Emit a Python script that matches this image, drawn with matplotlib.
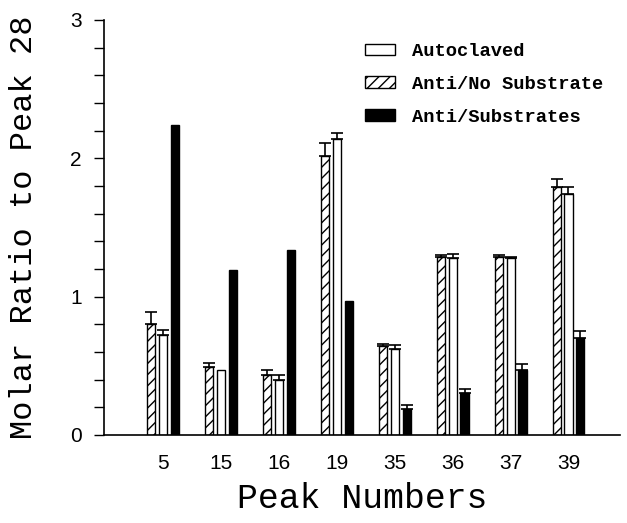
import matplotlib.pyplot as plt
from matplotlib.patches import Patch
from matplotlib.ticker import MultipleLocator
import numpy as np

peaks = ["5", "15", "16", "19", "35", "36", "37", "39"]

anti_no_sub = [0.80, 0.49, 0.43, 2.02, 0.64, 1.29, 1.29, 1.79]
anti_no_sub_err = [0.09, 0.03, 0.04, 0.09, 0.02, 0.01, 0.01, 0.06]

autoclaved = [0.72, 0.47, 0.40, 2.14, 0.62, 1.28, 1.28, 1.74]
autoclaved_err = [0.04, 0.0, 0.03, 0.04, 0.03, 0.03, 0.01, 0.05]

anti_sub = [2.24, 1.19, 1.34, 0.97, 0.19, 0.30, 0.47, 0.70]
anti_sub_err = [0.0, 0.0, 0.0, 0.0, 0.03, 0.03, 0.04, 0.05]

mono = ["Liberation Mono", "DejaVu Sans Mono"]
sans = ["Liberation Sans", "DejaVu Sans"]

fig = plt.figure(figsize=(6.27, 5.23), dpi=100)
ax = fig.add_axes([0.1659, 0.1683, 0.823, 0.7935])

x = np.arange(len(peaks))
w = 0.14
off = 0.205
plt.rcParams["hatch.linewidth"] = 1.0


def draw(xs, vals, errs, **kw):
    ax.bar(xs, vals, w, edgecolor="black", linewidth=1.0, **kw)
    errs = np.array(errs)
    m = errs > 0
    ax.errorbar(xs[m], np.array(vals)[m], yerr=[np.zeros(m.sum()), errs[m]],
                fmt="none", ecolor="black", elinewidth=1.2, capsize=4, capthick=1.2)


draw(x - off, anti_no_sub, anti_no_sub_err, color="white", hatch="///")
draw(x, autoclaved, autoclaved_err, color="white")
draw(x + off, anti_sub, anti_sub_err, color="black")

ax.set_xlim(-1.02, 7.89)
ax.set_ylim(0, 3)
ax.spines["top"].set_visible(False)
ax.spines["right"].set_visible(False)
ax.spines["left"].set_linewidth(1.2)
ax.spines["bottom"].set_linewidth(1.2)

ax.set_xticks(x)
ax.set_xticklabels(peaks, fontfamily=sans, fontsize=15)
ax.tick_params(axis="x", length=0, pad=14)

ax.yaxis.set_major_locator(MultipleLocator(1))
ax.yaxis.set_minor_locator(MultipleLocator(0.2))
ax.tick_params(axis="y", which="both", direction="out", length=7, width=1.0, pad=9)
for lab in ax.get_yticklabels():
    lab.set_fontfamily(sans)
    lab.set_fontsize(15)

ax.set_ylabel("Molar Ratio to Peak 28", fontfamily=mono, fontsize=23, labelpad=22)
ax.set_xlabel("Peak Numbers", fontfamily=mono, fontsize=25, labelpad=6)

handles = [
    Patch(facecolor="white", edgecolor="black", label="Autoclaved"),
    Patch(facecolor="white", edgecolor="black", hatch="///", label="Anti/No Substrate"),
    Patch(facecolor="black", edgecolor="black", label="Anti/Substrates"),
]
ax.legend(handles=handles, loc="upper right", bbox_to_anchor=(1.0, 0.985),
          frameon=False, handlelength=1.6, handleheight=0.6, labelspacing=0.85,
          handletextpad=0.9, prop={"family": mono, "weight": "bold", "size": 13.5})

fig.savefig("out.png", dpi=100)
